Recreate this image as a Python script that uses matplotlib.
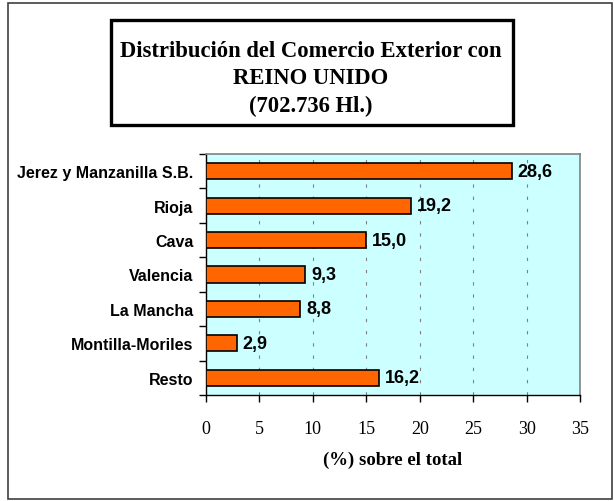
import matplotlib.pyplot as plt
from matplotlib.patches import Rectangle
import numpy as np

categorias = ["Jerez y Manzanilla S.B.", "Rioja", "Cava", "Valencia",
              "La Mancha", "Montilla-Moriles", "Resto"]
porcentajes = [28.6, 19.2, 15.0, 9.3, 8.8, 2.9, 16.2]
etiquetas = ["28,6", "19,2", "15,0", "9,3", "8,8", "2,9", "16,2"]
xticks = [0, 5, 10, 15, 20, 25, 30, 35]

W, H = 614, 502
fig = plt.figure(figsize=(W / 100, H / 100), dpi=100)
fig.patch.set_facecolor("white")

# outer chart frame
fig.add_artist(Rectangle((8 / W, 1 - 500 / H), 604 / W, 496 / H,
                         transform=fig.transFigure, fill=False,
                         edgecolor="#404040", linewidth=1.2))

# title box
fig.add_artist(Rectangle((111 / W, 1 - 126 / H), 402 / W, 105 / H,
                         transform=fig.transFigure, fill=False,
                         edgecolor="black", linewidth=2.4))
fig.text(311 / W, 1 - 79 / H,
         "Distribución del Comercio Exterior con\nREINO UNIDO\n(702.736 Hl.)",
         ha="center", va="center", family="Liberation Serif",
         fontweight="bold", fontsize=16.3, linespacing=1.43)

ax = fig.add_axes([206 / W, 1 - 396 / H, 374 / W, 241 / H])
ax.set_facecolor("#CCFFFF")

y = np.arange(len(categorias))
ax.barh(y, porcentajes, height=0.47, color="#FF6600", edgecolor="black",
        linewidth=1.2, zorder=3)
for yi, v, lab in zip(y, porcentajes, etiquetas):
    ax.text(v + 0.55, yi, lab, va="center", ha="left", family="Liberation Sans",
            fontweight="bold", fontsize=13, zorder=4)

ax.set_xlim(0, 35)
ax.set_ylim(len(categorias) - 0.5, -0.5)
ax.set_xticks(xticks)
ax.set_xticklabels([str(t) for t in xticks], family="Liberation Serif",
                   fontsize=13)
ax.set_yticks(y)
ax.set_yticklabels(categorias, family="Liberation Sans", fontweight="bold",
                   fontsize=11.5)
ax.set_yticks(np.arange(-0.5, len(categorias)), minor=True)
ax.tick_params(axis="y", which="major", length=0, pad=9)
ax.tick_params(axis="y", which="minor", length=5, width=1, direction="out")
ax.tick_params(axis="x", length=5, width=1, direction="out", pad=13)

ax.grid(axis="x", color="#808080", linestyle=(0, (3, 8)), linewidth=0.8,
        zorder=1)
ax.set_axisbelow(True)

for s in ("top", "right"):
    ax.spines[s].set_color("#808080")
    ax.spines[s].set_linewidth(1.2)
for s in ("left", "bottom"):
    ax.spines[s].set_color("black")
    ax.spines[s].set_linewidth(1)

ax.set_xlabel("(%) sobre el total", family="Liberation Serif",
              fontweight="bold", fontsize=13.5, labelpad=10)

fig.savefig("out.png", dpi=100)
